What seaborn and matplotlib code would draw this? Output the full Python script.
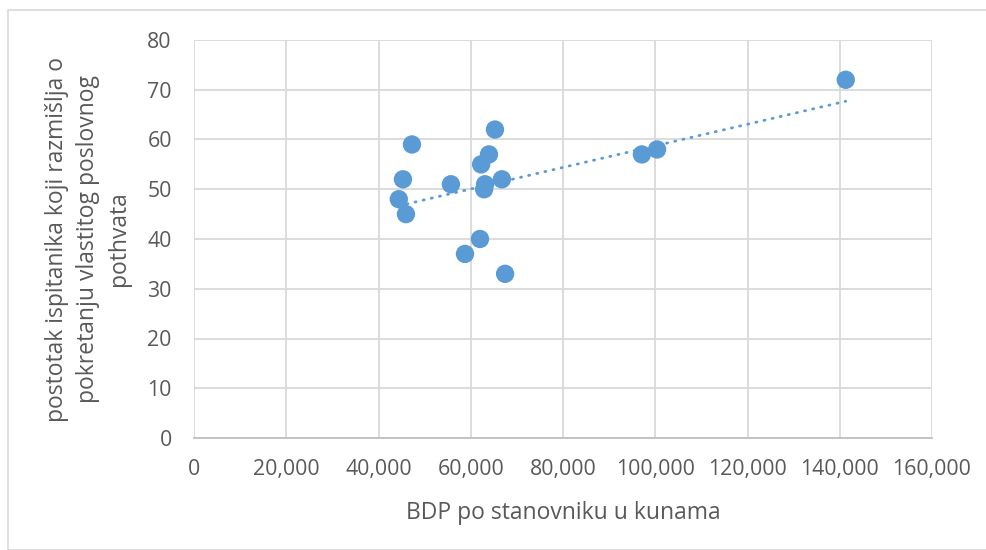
import numpy as np
import pandas as pd
import matplotlib
matplotlib.use("Agg")
import matplotlib.pyplot as plt
from matplotlib.ticker import FuncFormatter
from matplotlib.patches import Rectangle
import seaborn as sns

# GDP per capita (HRK) and share of respondents considering starting a business (%)
bdp = [44400, 45300, 45950, 47250, 55700, 58750, 62000, 62250, 63100, 62900,
       63950, 65250, 66750, 67450, 97100, 100400, 141300]
postotak = [48, 52, 45, 59, 51, 37, 40, 55, 51, 50, 57, 62, 52, 33, 57, 58, 72]

x_ticks = [0, 20000, 40000, 60000, 80000, 100000, 120000, 140000, 160000]
y_ticks = [0, 10, 20, 30, 40, 50, 60, 70, 80]

x_label = "BDP po stanovniku u kunama"
y_label = "postotak ispitanika koji razmišlja o\npokretanju vlastitog poslovnog\npothvata"

df = pd.DataFrame({"bdp": bdp, "postotak": postotak})

sns.set_style("white")
plt.rcParams["font.family"] = ["Open Sans", "DejaVu Sans"]

blue = "#5B9BD5"
text_gray = "#595959"
grid_gray = "#D9D9D9"

W, H = 987, 550
fig = plt.figure(figsize=(W / 100, H / 100), dpi=100)
fig.patches.append(Rectangle((8 / W, 0), 1.0, 1 - 10 / H, transform=fig.transFigure,
                             fill=False, edgecolor="#D9D9D9", linewidth=1.2))

ax = fig.add_axes([194 / W, 1 - 438 / H, (932 - 194) / W, (438 - 40) / H])

# linear trend line over the data range
k, b = np.polyfit(df["bdp"], df["postotak"], 1)
xs = np.array([df["bdp"].min(), df["bdp"].max()])
ax.plot(xs, k * xs + b, color=blue, linewidth=2.0, linestyle=(0, (0.4, 2.6)),
        dash_capstyle="round", zorder=2)

sns.scatterplot(data=df, x="bdp", y="postotak", ax=ax, color=blue, s=175,
                edgecolor="none", zorder=3)

ax.set_xlim(0, 160000)
ax.set_ylim(0, 80)
ax.set_xticks(x_ticks)
ax.set_yticks(y_ticks)
ax.xaxis.set_major_formatter(FuncFormatter(lambda v, p: f"{int(v):,}"))
ax.grid(True, color=grid_gray, linewidth=1.3)
ax.set_axisbelow(True)
for side in ["top", "right", "left"]:
    ax.spines[side].set_visible(False)
ax.spines["bottom"].set_color("#BFBFBF")
ax.spines["bottom"].set_linewidth(1.3)
ax.tick_params(axis="both", length=0, labelsize=15.3, labelcolor=text_gray)
ax.tick_params(axis="x", pad=15)
ax.tick_params(axis="y", pad=16)

ax.set_xlabel(x_label, fontsize=16.5, color=text_gray, labelpad=15)
ax.set_ylabel(y_label, fontsize=16.5, color=text_gray, labelpad=12,
              linespacing=1.38, multialignment="center")

fig.savefig("out.png", dpi=100)
